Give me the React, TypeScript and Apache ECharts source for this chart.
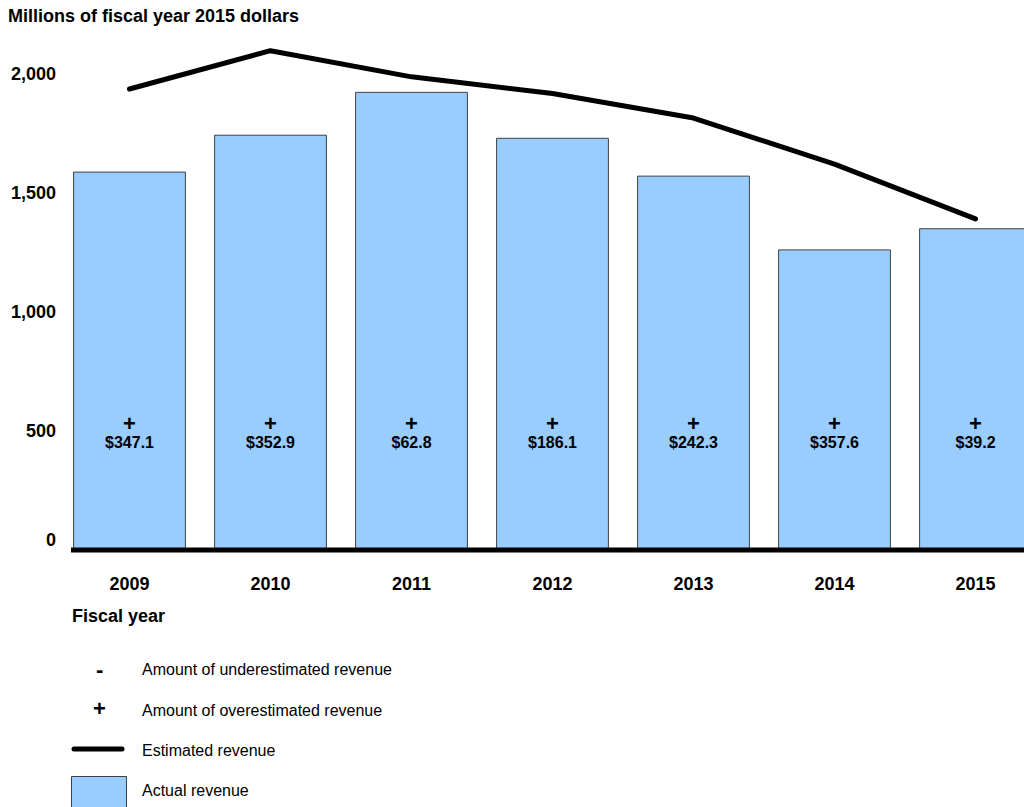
import React, { useEffect, useRef } from "react";
import * as echarts from "echarts";

const years = ["2009", "2010", "2011", "2012", "2013", "2014", "2015"];
const actualRevenue = [1590, 1745, 1925, 1732, 1573, 1263, 1352];
const estimatedRevenue = [1937, 2098, 1988, 1918, 1815, 1621, 1391];
const overestimated = ["347.1", "352.9", "62.8", "186.1", "242.3", "357.6", "39.2"];
const yTicks = [0, 500, 1000, 1500, 2000];

const FONT = "'Liberation Sans', Arial, Helvetica, sans-serif";
const BAR_COLOR = "#99ccff";
const BAR_BORDER = "#404040";

export default function App() {
  const ref = useRef<HTMLDivElement>(null);
  useEffect(() => {
    if (!ref.current) return;
    const chart = echarts.init(ref.current, null, { renderer: "svg" });
    const legendText = (y: number, text: string) => ({
      type: "text",
      left: 142,
      top: y - 9,
      style: { text, fill: "#000", font: `16px ${FONT}` },
    });
    chart.setOption({
      animation: false,
      textStyle: { fontFamily: FONT },
      grid: { left: 59, right: 4, top: 74, bottom: 257, containLabel: false },
      xAxis: {
        type: "category",
        data: years,
        axisLine: { show: false },
        axisTick: { show: false },
        axisLabel: {
          margin: 25,
          color: "#000",
          fontWeight: "bold",
          fontSize: 18,
          fontFamily: FONT,
        },
      },
      yAxis: {
        type: "value",
        min: 0,
        max: 2000,
        interval: 500,
        splitLine: { show: false },
        axisLine: { show: false },
        axisTick: { show: false },
        axisLabel: {
          margin: 3,
          color: "#000",
          fontWeight: "bold",
          fontSize: 18,
          fontFamily: FONT,
          formatter: (v: number) => {
            if (yTicks.indexOf(v) < 0) return "";
            if (v === 0) return "{z|0}";
            return v.toLocaleString("en-US");
          },
          rich: {
            z: {
              fontWeight: "bold",
              fontSize: 18,
              fontFamily: FONT,
              color: "#000",
              padding: [0, 0, 20, 0],
            },
          },
        },
      },
      series: [
        {
          type: "bar",
          data: actualRevenue,
          barCategoryGap: "20%",
          itemStyle: { color: BAR_COLOR, borderColor: BAR_BORDER, borderWidth: 1 },
          label: {
            show: true,
            position: "insideBottom",
            distance: 98,
            color: "#000",
            fontWeight: "bold",
            fontSize: 16,
            lineHeight: 19,
            fontFamily: FONT,
            formatter: (p: any) => `{p|+}\n$${overestimated[p.dataIndex]}`,
            rich: {
              p: { fontSize: 22, fontWeight: "bold", lineHeight: 19, color: "#000", fontFamily: FONT },
            },
          },
          z: 2,
        },
        {
          type: "line",
          data: estimatedRevenue,
          clip: false,
          symbol: "none",
          lineStyle: { color: "#000", width: 5, join: "round", cap: "round" },
          z: 3,
        },
      ],
      graphic: [
        {
          type: "text",
          left: 8,
          top: 7,
          style: { text: "Millions of fiscal year 2015 dollars", fill: "#000", font: `bold 18px ${FONT}` },
        },
        {
          type: "text",
          left: 72,
          top: 607,
          style: { text: "Fiscal year", fill: "#000", font: `bold 18px ${FONT}` },
        },
        {
          type: "line",
          shape: { x1: 71, y1: 550, x2: 1050, y2: 550 },
          style: { stroke: "#000", lineWidth: 5 },
          z: 10,
        },
        {
          type: "text",
          left: 96,
          top: 658,
          style: { text: "-", fill: "#000", font: `bold 22px ${FONT}` },
        },
        legendText(670, "Amount of underestimated revenue"),
        {
          type: "text",
          left: 93,
          top: 697,
          style: { text: "+", fill: "#000", font: `bold 22px ${FONT}` },
        },
        legendText(711, "Amount of overestimated revenue"),
        {
          type: "line",
          shape: { x1: 74, y1: 749, x2: 122, y2: 749 },
          style: { stroke: "#000", lineWidth: 5, lineCap: "round" },
        },
        legendText(751, "Estimated revenue"),
        {
          type: "rect",
          shape: { x: 71.5, y: 776.5, width: 55, height: 40 },
          style: { fill: BAR_COLOR, stroke: BAR_BORDER, lineWidth: 1 },
        },
        legendText(791, "Actual revenue"),
      ],
    });
    return () => chart.dispose();
  }, []);
  return (
    <div style={{ position: "fixed", left: 0, top: 0, width: 1024, height: 807, overflow: "hidden", background: "#fff" }}>
      <div ref={ref} style={{ width: 1050, height: 807 }} />
    </div>
  );
}
